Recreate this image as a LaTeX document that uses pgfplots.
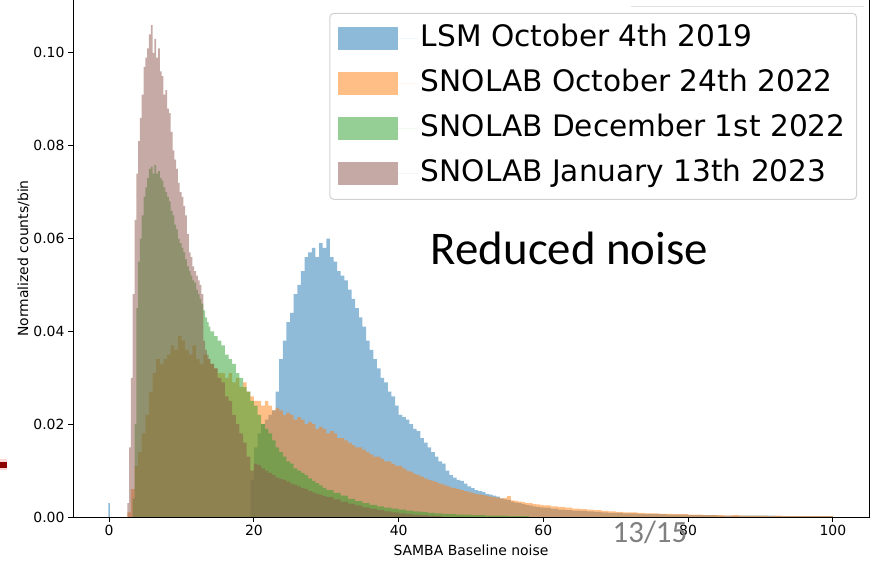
\documentclass[border=0pt]{standalone}
\usepackage{pgfplots}
\pgfplotsset{compat=1.18}
\usepackage{fontspec}
\setmainfont{DejaVu Sans}
\newfontfamily\calibri{Carlito}

\definecolor{C0}{HTML}{1F77B4}
\definecolor{C1}{HTML}{FF7F0E}
\definecolor{C2}{HTML}{2CA02C}
\definecolor{C5}{HTML}{8C564B}

\begin{document}
\begin{tikzpicture}
\useasboundingbox (0bp,0bp) rectangle (872bp,562bp);
% slide leftovers around the plot
\fill[red!15] (0bp,92bp) rectangle (7bp,103bp);
\fill[red!55!black] (0bp,94bp) rectangle (7bp,100bp);
\draw[black!12, line width=0.8bp] (631bp,556bp) -- (864bp,556bp);

\begin{axis}[
    at={(73bp,45bp)}, anchor=south west,
    scale only axis, width=796bp, height=517bp,
    xmin=-5, xmax=105, ymin=0, ymax=0.1114,
    xtick={0,20,40,60,80,100},
    ytick={0,0.02,0.04,0.06,0.08,0.1},
    scaled y ticks=false,
    yticklabel style={/pgf/number format/.cd, fixed, fixed zerofill, precision=2},
    /pgf/number format/assume math mode=true,
    tick label style={font=\fontsize{14}{16}\selectfont},
    tick align=outside, xtick pos=bottom, ytick pos=left,
    major tick length=5bp,
    axis line style={line width=1bp},
    every tick/.style={line width=1bp, black},
    xlabel={SAMBA Baseline noise},
    ylabel={Normalized counts/bin},
    every axis x label/.style={at={(axis description cs:0.5,0)}, anchor=base, yshift=-38bp,
        font=\fontsize{14}{16}\selectfont},
    every axis y label/.style={at={(axis description cs:-0.0565,0.5)}, rotate=90, anchor=base,
        font=\fontsize{14}{16}\selectfont},
    legend style={at={(axis description cs:0.985,0.975)}, anchor=north east,
        draw=black!18, line width=1bp, rounded corners=4bp,
        fill=white, fill opacity=0.8, text opacity=1,
        font=\fontsize{29.7}{35}\selectfont,
        inner xsep=8bp, inner ysep=9bp, row sep=12bp,
        nodes={inner sep=3bp, text height=21bp, text depth=6bp}},
    legend cell align=left,
    legend image code/.code={\fill[#1, sharp corners] (0bp,-11bp) rectangle (60bp,11.5bp);
        \path (60bp,0bp) -- (80bp,0bp);},
    every axis plot/.append style={const plot mark left, draw=none, fill opacity=0.5},
]

\addplot[fill=C0] coordinates {
(-0.1,0.003) (0.1,0) (19.5,0.008) (20,0.015) (20.5,0.018) (21,0.020) (21.5,0.021) (22,0.022) (22.5,0.023) (23,0.027) (23.5,0.034) (24,0.038) (24.5,0.042) (25,0.044) (25.5,0.048) (26,0.050) (26.5,0.053) (27,0.056) (27.5,0.057) (28,0.058) (28.5,0.056) (29,0.059) (29.5,0.058) (30,0.060) (30.5,0.056) (31,0.055) (31.5,0.053) (32,0.052) (32.5,0.051) (33,0.049) (33.5,0.047) (34,0.045) (34.5,0.043) (35,0.041) (35.5,0.038) (36,0.036) (36.5,0.034) (37,0.032) (37.5,0.030) (38,0.029) (38.5,0.027) (39,0.026) (39.5,0.024) (40,0.022) (40.5,0.0215) (41,0.021) (41.5,0.020) (42,0.019) (42.5,0.0185) (43,0.017) (43.5,0.016) (44,0.015) (44.5,0.014) (45,0.013) (45.5,0.012) (46,0.0115) (46.5,0.010) (47,0.009) (47.5,0.0085) (48,0.008) (48.5,0.0078) (49,0.0072) (49.5,0.0066) (50,0.0062) (50.5,0.0058) (51,0.0056) (51.5,0.0054) (52,0.005) (52.5,0.0048) (53,0.0046) (53.5,0.0044) (54,0.004) (54.5,0.0038) (55,0.0037) (55.5,0.0033) (56,0.0031) (56.5,0.003) (57,0.0028) (57.5,0.0026) (58,0.0025) (58.5,0.0023) (59,0.0022) (59.5,0.0021) (60,0.002) (61,0.0018) (62,0.0016) (63,0.0015) (64,0.0014) (65,0.0013) (66,0.0012) (67,0.0011) (68,0.001) (69,0.0009) (70,0.0009) (71,0.0008) (72,0.0008) (73,0.0007) (74,0.0007) (75,0.0006) (76,0.0006) (77,0.0005) (78,0.0005) (79,0.0005) (80,0.0004) (82,0.0004) (84,0.0003) (86,0.0003) (88,0.0003) (90,0.0003) (92,0.0002) (94,0.0002) (96,0.0002) (98,0.0002) (100,0)
} \closedcycle;
\addlegendentry{LSM October 4th 2019}

\addplot[fill=C1] coordinates {
(2.5,0.001) (3,0.006) (3.5,0.011) (4,0.014) (4.5,0.018) (5,0.022) (5.5,0.027) (6,0.031) (6.5,0.034) (7,0.033) (7.5,0.034) (8,0.035) (8.5,0.037) (9,0.036) (9.5,0.039) (10,0.038) (10.5,0.036) (11,0.035) (11.5,0.037) (12,0.034) (12.5,0.033) (13,0.035) (13.5,0.034) (14,0.033) (14.5,0.032) (15,0.031) (15.5,0.031) (16,0.030) (16.5,0.031) (17,0.029) (17.5,0.030) (18,0.028) (18.5,0.029) (19,0.027) (19.5,0.026) (20,0.025) (20.5,0.025) (21,0.024) (21.5,0.025) (22,0.024) (22.5,0.023) (23,0.0235) (23.5,0.023) (24,0.022) (24.5,0.0225) (25,0.022) (25.5,0.021) (26,0.0215) (26.5,0.021) (27,0.020) (27.5,0.0205) (28,0.020) (28.5,0.019) (29,0.0195) (29.5,0.019) (30,0.018) (30.5,0.0185) (31,0.018) (31.5,0.017) (32,0.017) (32.5,0.0165) (33,0.016) (33.5,0.0155) (34,0.015) (34.5,0.015) (35,0.0145) (35.5,0.014) (36,0.0135) (36.5,0.013) (37,0.013) (37.5,0.0125) (38,0.012) (38.5,0.012) (39,0.0115) (39.5,0.011) (40,0.011) (40.5,0.0105) (41,0.010) (41.5,0.0098) (42,0.0093) (42.5,0.009) (43,0.0087) (43.5,0.0083) (44,0.008) (44.5,0.0078) (45,0.0075) (45.5,0.0072) (46,0.007) (46.5,0.0067) (47,0.0064) (47.5,0.0062) (48,0.006) (48.5,0.0058) (49,0.0056) (49.5,0.0054) (50,0.0052) (50.5,0.005) (51,0.0049) (51.5,0.0047) (52,0.0046) (52.5,0.0044) (53,0.0043) (53.5,0.0042) (54,0.004) (54.5,0.0041) (55,0.0045) (55.5,0.0036) (56,0.0035) (56.5,0.0033) (57,0.0032) (57.5,0.003) (58,0.003) (58.5,0.0028) (59,0.0027) (59.5,0.0026) (60,0.0025) (61,0.0023) (62,0.0022) (63,0.002) (64,0.0018) (65,0.0017) (66,0.0016) (67,0.0015) (68,0.0013) (69,0.0012) (70,0.0011) (71,0.001) (72,0.001) (73,0.0009) (74,0.0008) (75,0.0008) (76,0.0007) (77,0.0007) (78,0.0006) (79,0.0006) (80,0.0005) (81,0.0005) (82,0.0004) (83,0.0004) (84,0.0004) (85,0.0003) (86,0.0004) (87,0.0003) (88,0.0003) (89,0.0003) (90,0.0003) (91,0.0002) (92,0.0003) (93,0.0002) (94,0.0002) (95,0.0002) (96,0.0002) (97,0.0002) (98,0.0002) (99,0.0002) (100,0)
} \closedcycle;
\addlegendentry{SNOLAB October 24th 2022}

\addplot[fill=C2] coordinates {
(3.25,0.004) (3.5,0.02) (3.75,0.045) (4,0.055) (4.25,0.060) (4.5,0.065) (4.75,0.069) (5,0.071) (5.25,0.073) (5.5,0.075) (5.75,0.0755) (6,0.074) (6.25,0.0758) (6.5,0.074) (6.75,0.0745) (7,0.073) (7.25,0.0725) (7.5,0.071) (7.75,0.070) (8,0.069) (8.25,0.068) (8.5,0.066) (8.75,0.065) (9,0.063) (9.25,0.062) (9.5,0.060) (9.75,0.059) (10,0.058) (10.25,0.057) (10.5,0.0555) (10.75,0.054) (11,0.053) (11.25,0.052) (11.5,0.051) (11.75,0.0505) (12,0.049) (12.25,0.048) (12.5,0.047) (12.75,0.046) (13,0.0445) (13.25,0.043) (13.5,0.042) (13.75,0.041) (14,0.040) (14.5,0.039) (15,0.038) (15.5,0.037) (16,0.035) (16.5,0.034) (17,0.033) (17.5,0.031) (18,0.030) (18.5,0.028) (19,0.027) (19.5,0.025) (20,0.024) (20.5,0.022) (21,0.020) (21.5,0.019) (22,0.018) (22.5,0.0165) (23,0.015) (23.5,0.014) (24,0.013) (24.5,0.012) (25,0.0115) (25.5,0.0105) (26,0.010) (26.5,0.0095) (27,0.009) (27.5,0.0083) (28,0.0078) (28.5,0.0073) (29,0.0068) (29.5,0.0063) (30,0.0058) (31,0.0052) (32,0.0046) (33,0.0039) (34,0.0034) (35,0.003) (36,0.0026) (37,0.0023) (38,0.002) (39,0.0018) (40,0.0016) (41,0.0014) (42,0.0012) (43,0.0011) (44,0.0009) (45,0.0008) (46,0.0007) (47,0.0006) (48,0.0005) (50,0.0004) (52,0.0003) (55,0.0002) (58,0)
} \closedcycle;
\addlegendentry{SNOLAB December 1st 2022}

\addplot[fill=C5] coordinates {
(2.5,0.003) (2.75,0.015) (3,0.030) (3.25,0.048) (3.5,0.064) (3.75,0.074) (4,0.081) (4.25,0.086) (4.5,0.091) (4.75,0.097) (5,0.099) (5.25,0.101) (5.5,0.104) (5.75,0.106) (6,0.100) (6.25,0.103) (6.5,0.099) (6.75,0.101) (7,0.096) (7.25,0.095) (7.5,0.091) (7.75,0.092) (8,0.088) (8.25,0.087) (8.5,0.083) (8.75,0.079) (9,0.077) (9.25,0.075) (9.5,0.072) (9.75,0.070) (10,0.069) (10.25,0.067) (10.5,0.065) (10.75,0.061) (11,0.057) (11.25,0.056) (11.5,0.054) (11.75,0.053) (12,0.052) (12.25,0.051) (12.5,0.050) (12.75,0.048) (13,0.038) (13.25,0.036) (13.5,0.035) (13.75,0.034) (14,0.033) (14.5,0.032) (15,0.030) (15.5,0.029) (16,0.026) (16.5,0.025) (17,0.022) (17.5,0.020) (18,0.018) (18.5,0.016) (19,0.013) (19.5,0.010) (20,0.0115) (20.5,0.0112) (21,0.0105) (21.5,0.010) (22,0.0095) (22.5,0.009) (23,0.0085) (23.5,0.0082) (24,0.008) (24.5,0.0076) (25,0.0072) (25.5,0.007) (26,0.0066) (26.5,0.0062) (27,0.006) (27.5,0.0056) (28,0.0053) (28.5,0.005) (29,0.0048) (29.5,0.0045) (30,0.0043) (31,0.0038) (32,0.0033) (33,0.0029) (34,0.0025) (35,0.0021) (36,0.0018) (37,0.0015) (38,0.0012) (39,0.001) (40,0.0008) (41,0.0006) (42,0.0005) (43,0.0004) (44,0.0003) (45,0.0002) (46,0)
} \closedcycle;
\addlegendentry{SNOLAB January 13th 2023}
\end{axis}

\node[font=\calibri\fontsize{47}{56}\selectfont, anchor=base] at (569.5bp,297bp) {Reduced noise};
\node[font=\calibri\fontsize{31}{37}\selectfont, text=black!50, anchor=base] at (650bp,20bp) {13/15};
\end{tikzpicture}
\end{document}
